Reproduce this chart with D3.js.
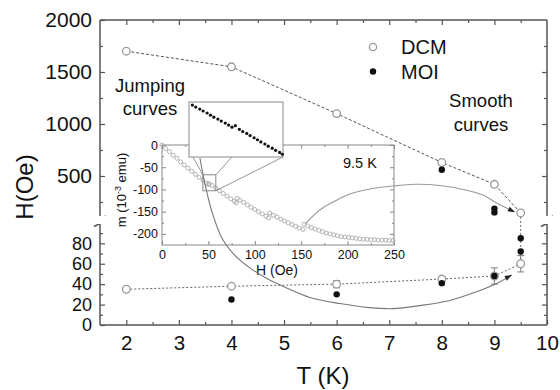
<!DOCTYPE html>
<html><head><meta charset="utf-8">
<script src="https://cdn.jsdelivr.net/npm/d3@7"></script>
<style>body{margin:0;background:#fff}svg text{font-family:'Liberation Sans',Arial,Helvetica,sans-serif}</style>
</head><body><svg id="c" width="560" height="390"></svg>
<script>
// ---------------- data ----------------
const seriesNames = ["DCM", "MOI"];
const dcmUpperT = [2, 4, 6, 8, 9, 9.5];
const dcmUpperH = [1700, 1550, 1100, 630, 420, 145];
const dcmLowerT = [2, 4, 6, 8, 9, 9.5];
const dcmLowerH = [35, 38, 40, 45, 48, 60];
const dcmLowerErr = [0, 0, 3.5, 2.5, 8, 8];
const moiT = [8, 9, 9, 4, 6, 8, 9, 9.5, 9.5];
const moiH = [560, 185, 150, 25, 30, 41, 48, 72, 85];

const xTicks = [2, 3, 4, 5, 6, 7, 8, 9, 10];
const xMinor = [2.5, 3.5, 4.5, 5.5, 6.5, 7.5, 8.5, 9.5];
const yUpperTicks = [500, 1000, 1500, 2000];
const yUpperMinor = [250, 750, 1250, 1750];
const yLowerTicks = [0, 20, 40, 60, 80];
const yLowerMinor = [10, 30, 50, 70, 90];

// inset: m(H) at 9.5 K
const insetH = [0,4,8,12,16,20,24,28,32,36,40,44,48,50,51,54,58,62,66,70,74,78,80,81,84,88,92,96,100,104,108,112,115,116,120,124,128,132,136,140,144,148,152,153,157,161,165,169,173,177,181,185,189,193,197,201,205,209,213,217,221,225,229,233,237,241,245,249];
const insetM = [0,-8,-15,-23,-30,-38,-45,-52,-59,-66,-73,-79,-86,-89,-87,-91,-97,-103,-109,-115,-121,-127,-130,-120,-124,-129,-135,-140,-145,-150,-155,-160,-164,-153,-158,-162,-167,-171,-175,-179,-183,-187,-190,-178,-182,-186,-189,-192,-195,-198,-200,-202,-204,-206,-207,-208,-209,-210,-211,-212,-212,-213,-213,-214,-214,-214,-215,-215];
const insetXTicks = [0, 50, 100, 150, 200, 250];
const insetXMinor = [25, 75, 125, 175, 225];
const insetYTicks = [0, -50, -100, -150, -200];
const insetYMinor = [-25, -75, -125, -175];

// magnified window of the inset
const zoomDomainH = [44, 58];
const zoomDomainM = [-103, -67];
const zoomH = [44.5,45.0,45.6,46.1,46.7,47.2,47.7,48.3,48.8,49.4,49.9,50.4,50.9,51.5,52.0,52.6,53.1,53.7,54.2,54.7,55.3,55.8,56.4,56.9,57.5,57.9];
const zoomM = [-69.0,-70.3,-71.6,-72.9,-74.2,-75.6,-76.9,-78.2,-79.5,-80.8,-82.1,-83.5,-82.5,-84.9,-86.3,-87.6,-89.0,-90.4,-91.7,-93.1,-94.5,-95.9,-97.2,-98.6,-100.0,-101.2];

// annotation arrows (in T, H units of the main plot)
const jumpArcT = [3.40,3.50,3.63,3.82,4.07,4.35,4.69,5.02,5.49,6.06,6.63,7.07,7.58,8.15,8.63,9.05,9.33];
const jumpArcH = [673,413,154,85,68,56,45,37,27,21,17,16,19,24,32,41,49];
const smoothArcT = [5.40,5.68,5.97,6.25,6.63,7.07,7.50,7.96,8.45,8.82,9.04,9.23,9.39];
const smoothArcH = [99,173,260,327,375,404,420,409,365,308,240,192,154];

// ---------------- layout ----------------
const svg = d3.select("#c");
const L = 100, R = 547, T = 20, B = 325;
const x = d3.scaleLinear([1.5, 10], [L, R]);
const yUp = d3.scaleLinear([100, 2000], [217.6, T]);
const yLo = d3.scaleLinear([0, 100], [B, 222.9]);
const yM = v => v >= 100 ? yUp(v) : yLo(v);
const AX = "#555", TXT = "#111";
const fmt = d => String(d);

function styleAxis(g, fs) {
  g.select(".domain").remove();
  g.selectAll(".tick line").attr("stroke", AX).attr("stroke-width", 1.2);
  g.selectAll(".tick text").attr("fill", TXT).style("font-size", fs + "px");
}
function addAxis(gen, transform, fs) {
  const g = svg.append("g").attr("transform", transform).call(gen);
  styleAxis(g, fs);
  return g;
}

// main axes
addAxis(d3.axisLeft(yUp).tickValues(yUpperTicks).tickFormat(fmt).tickSizeInner(-5).tickSizeOuter(0).tickPadding(8), `translate(${L},0)`, 21);
addAxis(d3.axisLeft(yUp).tickValues(yUpperMinor).tickSizeInner(-3).tickSizeOuter(0).tickFormat(""), `translate(${L},0)`, 20);
addAxis(d3.axisLeft(yLo).tickValues(yLowerTicks).tickFormat(fmt).tickSizeInner(-5).tickSizeOuter(0).tickPadding(8), `translate(${L},0)`, 18);
addAxis(d3.axisLeft(yLo).tickValues(yLowerMinor).tickSizeInner(-3).tickSizeOuter(0).tickFormat(""), `translate(${L},0)`, 20);
addAxis(d3.axisRight(yUp).tickValues(yUpperTicks.slice(0,3)).tickSizeInner(-5).tickSizeOuter(0).tickFormat(""), `translate(${R},0)`, 20);
addAxis(d3.axisRight(yUp).tickValues(yUpperMinor).tickSizeInner(-3).tickSizeOuter(0).tickFormat(""), `translate(${R},0)`, 20);
addAxis(d3.axisRight(yLo).tickValues(yLowerTicks.slice(1)).tickSizeInner(-5).tickSizeOuter(0).tickFormat(""), `translate(${R},0)`, 20);
addAxis(d3.axisRight(yLo).tickValues(yLowerMinor).tickSizeInner(-3).tickSizeOuter(0).tickFormat(""), `translate(${R},0)`, 20);
addAxis(d3.axisBottom(x).tickValues(xTicks).tickFormat(fmt).tickSizeInner(-5).tickSizeOuter(0).tickPadding(10), `translate(0,${B})`, 20.5);
addAxis(d3.axisBottom(x).tickValues(xMinor).tickSizeInner(-3).tickSizeOuter(0).tickFormat(""), `translate(0,${B})`, 20);
addAxis(d3.axisTop(x).tickValues(xTicks.slice(0,-1)).tickSizeInner(-5).tickSizeOuter(0).tickFormat(""), `translate(0,${T})`, 20);
addAxis(d3.axisTop(x).tickValues(xMinor).tickSizeInner(-3).tickSizeOuter(0).tickFormat(""), `translate(0,${T})`, 20);

// frame with breaks
const frame = svg.append("g").attr("stroke", AX).attr("stroke-width", 1.5).attr("fill", "none");
[[L,T,R,T],[L,B,R,B],[L,T,L,216],[L,224,L,B],[R,T,R,216],[R,224,R,B]].forEach(s =>
  frame.append("line").attr("x1", s[0]).attr("y1", s[1]).attr("x2", s[2]).attr("y2", s[3]));
[L, R].forEach(ax => {
  svg.append("rect").attr("x", ax - 7).attr("y", 216).attr("width", 14).attr("height", 8).attr("fill", "#fff");
  [219, 223.5].forEach(yy => frame.append("line").attr("x1", ax - 6).attr("y1", yy + 3).attr("x2", ax + 6).attr("y2", yy - 3));
});

// axis titles
svg.append("text").attr("transform", "translate(33,187) rotate(-90)").attr("text-anchor", "middle")
  .style("font-size", "24px").attr("fill", TXT).text("H(Oe)");
svg.append("text").attr("x", 323).attr("y", 384).attr("text-anchor", "middle")
  .style("font-size", "24px").attr("fill", TXT).text("T (K)");

// DCM dashed connecting lines
const ln = d3.line().x(d => x(d[0])).y(d => yM(d[1]));
const dcmUp = dcmUpperT.map((t, i) => [t, dcmUpperH[i]]);
const dcmLo = dcmLowerT.map((t, i) => [t, dcmLowerH[i]]);
svg.append("path").attr("d", ln(dcmUp)).attr("fill", "none").attr("stroke", "#555").attr("stroke-width", 1).attr("stroke-dasharray", "3,2");
svg.append("path").attr("d", ln(dcmLo)).attr("fill", "none").attr("stroke", "#666").attr("stroke-width", 1).attr("stroke-dasharray", "2,2");
svg.append("path").attr("d", ln([dcmUp[dcmUp.length-1], dcmLo[dcmLo.length-1]])).attr("fill", "none")
  .attr("stroke", "#666").attr("stroke-width", 1).attr("stroke-dasharray", "2,2");

// error bars
dcmLo.forEach((d, i) => {
  const e = dcmLowerErr[i]; if (!e) return;
  const g = svg.append("g").attr("stroke", "#888").attr("stroke-width", 1.1);
  g.append("line").attr("x1", x(d[0])).attr("x2", x(d[0])).attr("y1", yM(d[1] - e)).attr("y2", yM(d[1] + e));
  [d[1] - e, d[1] + e].forEach(v => g.append("line").attr("x1", x(d[0]) - 3.5).attr("x2", x(d[0]) + 3.5).attr("y1", yM(v)).attr("y2", yM(v)));
});

// DCM points
svg.append("g").selectAll("circle").data(dcmUp.concat(dcmLo)).join("circle")
  .attr("cx", d => x(d[0])).attr("cy", d => yM(d[1])).attr("r", 3.8)
  .attr("fill", "#fff").attr("stroke", "#999").attr("stroke-width", 1.3);
// MOI points
svg.append("g").selectAll("circle").data(moiT.map((t, i) => [t, moiH[i]])).join("circle")
  .attr("cx", d => x(d[0])).attr("cy", d => yM(d[1])).attr("r", 3.2).attr("fill", "#111");

// legend
svg.append("circle").attr("cx", 373).attr("cy", 47).attr("r", 3.6).attr("fill", "#fff").attr("stroke", "#999").attr("stroke-width", 1.3);
svg.append("circle").attr("cx", 373).attr("cy", 71.5).attr("r", 3.2).attr("fill", "#111");
svg.append("text").attr("x", 401).attr("y", 53.5).style("font-size", "20px").attr("fill", TXT).text(seriesNames[0]);
svg.append("text").attr("x", 401).attr("y", 78.5).style("font-size", "20px").attr("fill", TXT).text(seriesNames[1]);

// annotations text
[["Smooth", 481, 107], ["curves", 481, 131]].forEach(t =>
  svg.append("text").attr("x", t[1]).attr("y", t[2]).attr("text-anchor", "middle").style("font-size", "18.5px").attr("fill", TXT).text(t[0]));
[["Jumping", 150, 92], ["curves", 150, 115]].forEach(t =>
  svg.append("text").attr("x", t[1]).attr("y", t[2]).attr("text-anchor", "middle").style("font-size", "18.5px").attr("fill", TXT).text(t[0]));

// ---------------- inset ----------------
const IL = 162, IR = 394, IT = 145, IB = 245;
const xi = d3.scaleLinear([0, 250], [IL, IR]);
const yi = d3.scaleLinear([-225, 0], [IB, IT]);
svg.append("rect").attr("x", IL).attr("y", IT).attr("width", IR - IL).attr("height", IB - IT).attr("fill", "#fff").attr("stroke", "#888").attr("stroke-width", 1);
function insetAxis(gen, tr) {
  const g = svg.append("g").attr("transform", tr).call(gen);
  g.select(".domain").remove();
  g.selectAll(".tick line").attr("stroke", "#888").attr("stroke-width", 1);
  g.selectAll(".tick text").attr("fill", TXT).style("font-size", "12.5px");
}
insetAxis(d3.axisBottom(xi).tickValues(insetXTicks).tickFormat(fmt).tickSizeInner(-4).tickSizeOuter(0).tickPadding(5), `translate(0,${IB})`);
insetAxis(d3.axisBottom(xi).tickValues(insetXMinor).tickSizeInner(-2).tickSizeOuter(0).tickFormat(""), `translate(0,${IB})`);
insetAxis(d3.axisTop(xi).tickValues(insetXTicks).tickSizeInner(-4).tickSizeOuter(0).tickFormat(""), `translate(0,${IT})`);
insetAxis(d3.axisTop(xi).tickValues(insetXMinor).tickSizeInner(-2).tickSizeOuter(0).tickFormat(""), `translate(0,${IT})`);
insetAxis(d3.axisLeft(yi).tickValues(insetYTicks).tickFormat(fmt).tickSizeInner(-4).tickSizeOuter(0).tickPadding(4), `translate(${IL},0)`);
insetAxis(d3.axisLeft(yi).tickValues(insetYMinor).tickSizeInner(-2).tickSizeOuter(0).tickFormat(""), `translate(${IL},0)`);
insetAxis(d3.axisRight(yi).tickValues(insetYTicks).tickSizeInner(-4).tickSizeOuter(0).tickFormat(""), `translate(${IR},0)`);
insetAxis(d3.axisRight(yi).tickValues(insetYMinor).tickSizeInner(-2).tickSizeOuter(0).tickFormat(""), `translate(${IR},0)`);

svg.append("g").selectAll("circle").data(insetH.map((h, i) => [h, insetM[i]])).join("circle")
  .attr("cx", d => xi(d[0])).attr("cy", d => yi(d[1])).attr("r", 2)
  .attr("fill", "none").attr("stroke", "#aaa").attr("stroke-width", 0.9);

const yl = svg.append("text").attr("transform", "translate(126,190) rotate(-90)").attr("text-anchor", "middle")
  .style("font-size", "13px").attr("fill", TXT);
yl.append("tspan").text("m (10");
yl.append("tspan").attr("dy", -5).style("font-size", "9px").text("-3");
yl.append("tspan").attr("dy", 5).text(" emu)");
svg.append("text").attr("x", 277).attr("y", 275).attr("text-anchor", "middle").style("font-size", "14px").attr("fill", TXT).text("H (Oe)");
svg.append("text").attr("x", 343).attr("y", 168).style("font-size", "14.5px").attr("fill", TXT).text("9.5 K");

// small selection box in inset
const sb = {x0: xi(zoomDomainH[0]), x1: xi(zoomDomainH[1]), y0: yi(zoomDomainM[1]), y1: yi(zoomDomainM[0])};
svg.append("rect").attr("x", sb.x0).attr("y", sb.y0).attr("width", sb.x1 - sb.x0).attr("height", sb.y1 - sb.y0)
  .attr("fill", "none").attr("stroke", "#888").attr("stroke-width", 1);

// magnified box
const MB = {x0: 189, x1: 283, y0: 102, y1: 157};
const xm = d3.scaleLinear(zoomDomainH, [MB.x0, MB.x1]);
const ym = d3.scaleLinear(zoomDomainM, [MB.y1, MB.y0]);
svg.append("rect").attr("x", MB.x0).attr("y", MB.y0).attr("width", MB.x1 - MB.x0).attr("height", MB.y1 - MB.y0)
  .attr("fill", "#fff").attr("stroke", "#888").attr("stroke-width", 1);
svg.append("g").selectAll("circle").data(zoomH.map((h, i) => [h, zoomM[i]])).join("circle")
  .attr("cx", d => xm(d[0])).attr("cy", d => ym(d[1])).attr("r", 1.6).attr("fill", "#111");

// connectors
const con = svg.append("g").attr("stroke", "#888").attr("stroke-width", 0.9);
[[193, sb.x0, sb.y0], [232, sb.x1, sb.y0], [MB.x1, sb.x1, sb.y1]].forEach(c =>
  con.append("line").attr("x1", c[0]).attr("y1", MB.y1).attr("x2", c[1]).attr("y2", c[2]));

// arcs with arrowheads
function arc(Ts, Hs, col) {
  const pts = Ts.map((t, i) => [x(t), yM(Hs[i])]);
  svg.append("path").attr("d", d3.line().curve(d3.curveCatmullRom)(pts))
    .attr("fill", "none").attr("stroke", col).attr("stroke-width", 1.1);
  const a = pts[pts.length - 2], b = pts[pts.length - 1];
  const dx = b[0] - a[0], dy = b[1] - a[1], n = Math.hypot(dx, dy), ux = dx / n, uy = dy / n;
  const bx = b[0] - 7 * ux, by = b[1] - 7 * uy;
  svg.append("path").attr("d", `M${b[0]},${b[1]}L${bx - 2.6 * uy},${by + 2.6 * ux}L${bx + 2.6 * uy},${by - 2.6 * ux}Z`).attr("fill", "#222");
}
arc(jumpArcT, jumpArcH, "#777");
arc(smoothArcT, smoothArcH, "#999");
</script></body></html>
